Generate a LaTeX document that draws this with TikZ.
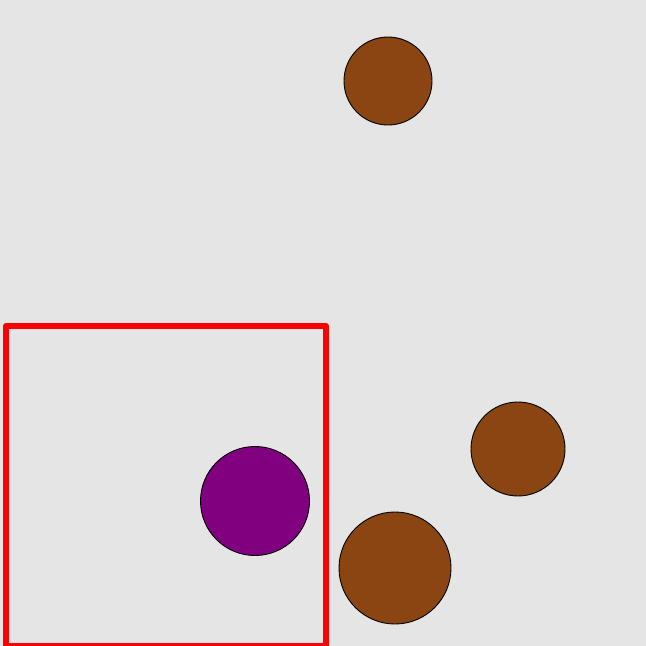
\documentclass[tikz,border=0pt]{standalone}
\definecolor{bggray}{HTML}{E5E5E5}
\definecolor{saddle}{HTML}{8B4513}
\definecolor{purp}{HTML}{800080}
\begin{document}
\begin{tikzpicture}[x=1pt,y=-1pt,
  ball/.style={circle,draw=black,line width=0.9pt,inner sep=0pt,fill=#1},
  frame/.style={draw=red,line width=6pt,line join=round}]
\fill[bggray] (0,0) rectangle (646,646);
\useasboundingbox (0,0) rectangle (646,646);
\node[ball=saddle,minimum size=88pt] (b1) at (388,81) {};
\node[ball=saddle,minimum size=94pt] (b2) at (518,449) {};
\node[ball=saddle,minimum size=112pt] (b3) at (395,568) {};
\node[ball=purp,minimum size=109pt] (p1) at (255,501) {};
\draw[frame] (6,326) rectangle (326,646);
\end{tikzpicture}
\end{document}
